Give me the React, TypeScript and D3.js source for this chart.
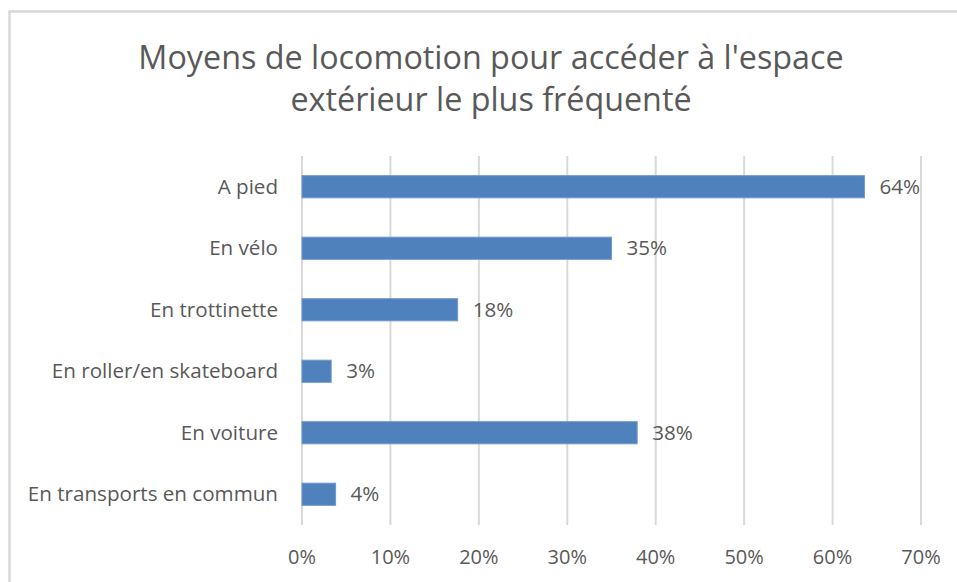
import React from "react";
import * as d3 from "d3";

const titleLines = ["Moyens de locomotion pour accéder à l'espace", "extérieur le plus fréquenté"];
const categories = [
  "A pied",
  "En vélo",
  "En trottinette",
  "En roller/en skateboard",
  "En voiture",
  "En transports en commun",
];
const values = [0.636, 0.35, 0.176, 0.033, 0.379, 0.038];
const ticks = [0, 0.1, 0.2, 0.3, 0.4, 0.5, 0.6, 0.7];

const W = 957;
const H = 582;
const FONT = "'Open Sans', 'DejaVu Sans', sans-serif";
const TEXT = "#595959";

export default function App() {
  const x = d3.scaleLinear().domain([0, 0.7]).range([302, 921]);
  const y = d3
    .scaleBand<string>()
    .domain(categories)
    .range([156, 525])
    .paddingInner(0.64)
    .paddingOuter(0.32);
  const pct = d3.format(".0%");

  return (
    <svg
      width={W}
      height={H}
      style={{ position: "absolute", left: 0, top: 0, background: "#fff" }}
      fontFamily={FONT}
    >
      <rect x={0} y={0} width={W} height={H} fill="#fff" />
      <rect x={9.5} y={11.5} width={W + 20} height={H + 20} fill="none" stroke="#D9D9D9" strokeWidth={2.5} />
      {titleLines.map((t, i) => (
        <text key={i} x={491} y={69 + i * 42} textAnchor="middle" fontSize={32.3} fill={TEXT}>
          {t}
        </text>
      ))}
      {ticks.map((t) => (
        <line key={"g" + t} x1={x(t)} x2={x(t)} y1={156} y2={525} stroke="#D9D9D9" strokeWidth={2} />
      ))}
      {ticks.map((t) => (
        <text key={"t" + t} x={x(t)} y={564} textAnchor="middle" fontSize={20} fill={TEXT}>
          {pct(t)}
        </text>
      ))}
      {categories.map((c, i) => {
        const yy = y(c)!;
        const bw = y.bandwidth();
        return (
          <g key={c}>
            <rect
              x={x(0)}
              y={yy}
              width={x(values[i]) - x(0)}
              height={bw}
              fill="#4F81BD"
              stroke="#6E98CC"
              strokeWidth={1}
            />
            <text x={278} y={yy + bw / 2} dy="0.35em" textAnchor="end" fontSize={20.6} fill={TEXT}>
              {c}
            </text>
            <text x={x(values[i]) + 15} y={yy + bw / 2} dy="0.35em" fontSize={20.6} fill={TEXT}>
              {pct(values[i])}
            </text>
          </g>
        );
      })}
    </svg>
  );
}
